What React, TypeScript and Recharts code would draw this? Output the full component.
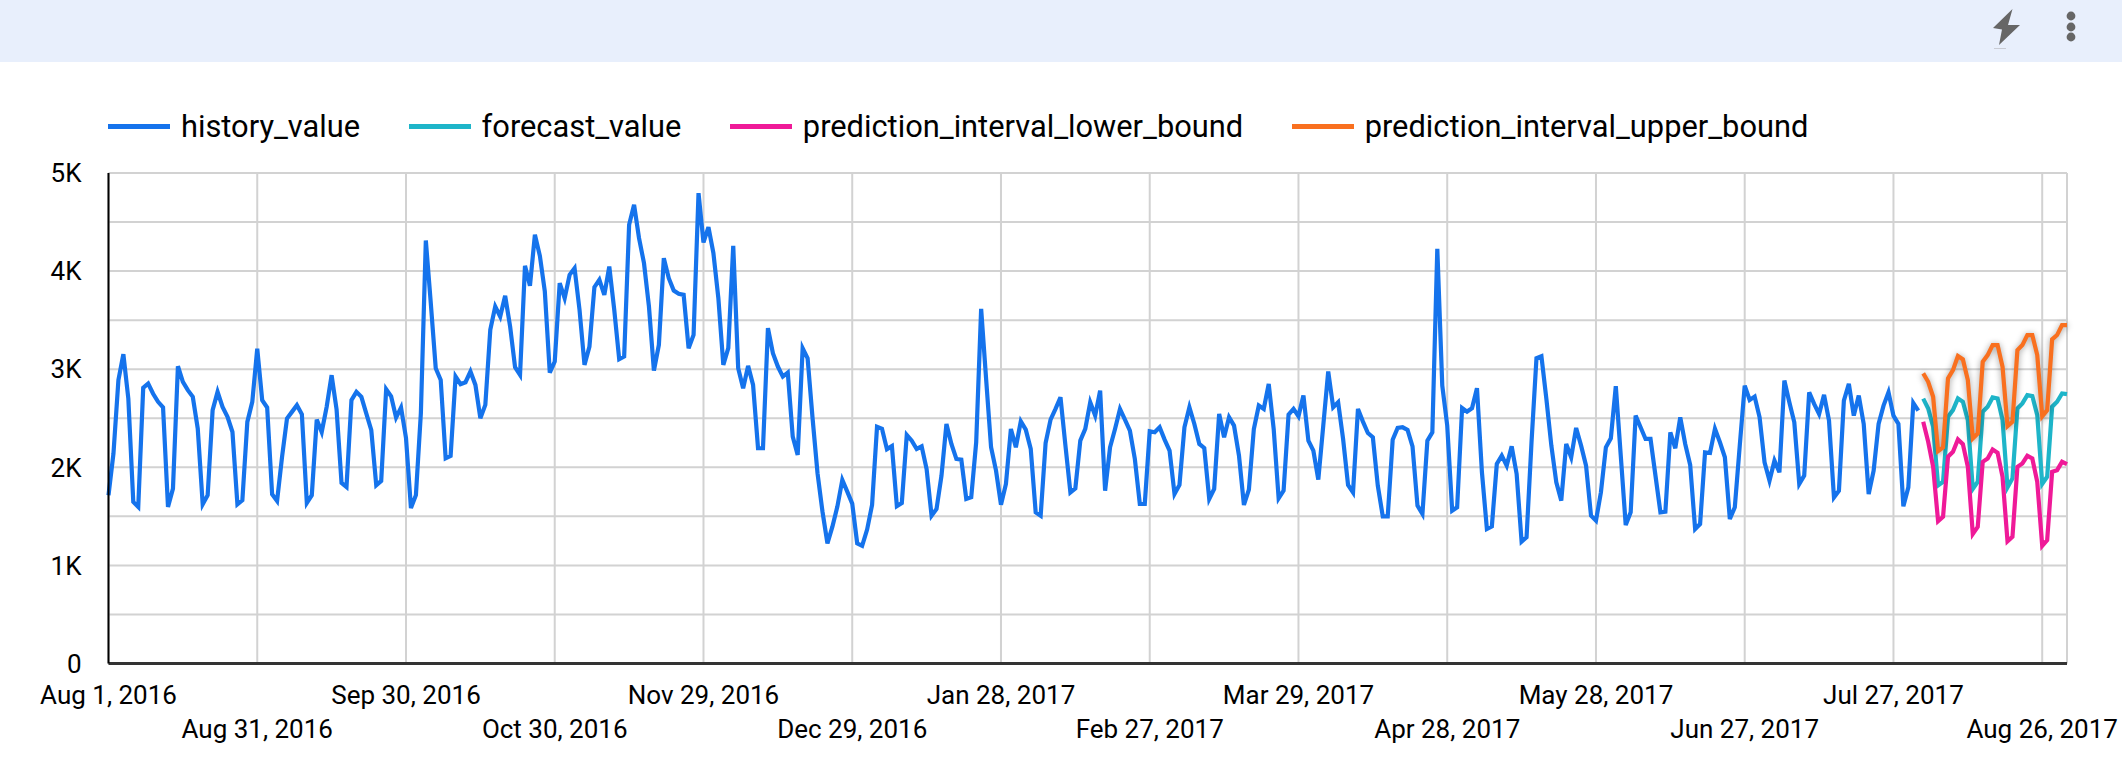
import { CartesianGrid, Legend, Line, LineChart, XAxis, YAxis } from "recharts";

// daily values from Aug 1, 2016
const historyValues = [
  1715, 2140, 2890, 3153, 2700, 1647, 1596, 2810, 2854, 2750,
  2667, 2610, 1596, 1783, 3030, 2870, 2786, 2718, 2395, 1623,
  1715, 2582, 2769, 2616, 2514, 2360, 1623, 1664, 2463, 2667,
  3210, 2684, 2610, 1725, 1657, 2106, 2497, 2565, 2633, 2541,
  1637, 1715, 2487, 2360, 2616, 2939, 2589, 1841, 1800, 2684,
  2769, 2718, 2548, 2378, 1817, 1861, 2796, 2724, 2507, 2610,
  2300, 1585, 1716, 2551, 4312, 3673, 3010, 2891, 2092, 2116,
  2925, 2847, 2867, 2976, 2840, 2500, 2636, 3401, 3639, 3537,
  3748, 3435, 3020, 2942, 4054, 3850, 4370, 4156, 3792, 2966,
  3078, 3877, 3724, 3962, 4030, 3605, 3044, 3231, 3836, 3911,
  3758, 4047, 3605, 3102, 3129, 4472, 4676, 4336, 4081, 3639,
  2986, 3248, 4132, 3928, 3802, 3768, 3758, 3214, 3350, 4795,
  4292, 4448, 4183, 3724, 3044, 3214, 4258, 3010, 2806, 3034,
  2840, 2194, 2194, 3418, 3163, 3027, 2925, 2966, 2313, 2126,
  3214, 3112, 2500, 1939, 1548, 1225, 1395, 1600, 1871, 1752,
  1630, 1225, 1200, 1365, 1616, 2412, 2392, 2185, 2216, 1605,
  1636, 2330, 2272, 2187, 2214, 1983, 1507, 1575, 1915, 2442,
  2238, 2085, 2078, 1677, 1694, 2255, 3615, 2901, 2204, 1966,
  1619, 1830, 2391, 2204, 2469, 2384, 2187, 1541, 1507, 2248,
  2486, 2595, 2714, 2221, 1745, 1786, 2272, 2391, 2663, 2527,
  2782, 1762, 2204, 2391, 2595, 2486, 2374, 2085, 1626, 1626,
  2367, 2357, 2408, 2282, 2170, 1728, 1820, 2408, 2612, 2442,
  2238, 2197, 1677, 1779, 2544, 2306, 2510, 2425, 2119, 1616,
  1772, 2391, 2629, 2595, 2850, 2391, 1684, 1762, 2537, 2595,
  2520, 2731, 2272, 2170, 1874, 2425, 2976, 2612, 2663, 2289,
  1820, 1745, 2595, 2466, 2350, 2306, 1813, 1500, 1500, 2282,
  2401, 2408, 2381, 2214, 1609, 1524, 2272, 2357, 4227, 2833,
  2425, 1558, 1592, 2605, 2568, 2602, 2806, 1949, 1371, 1398,
  2034, 2119, 2017, 2214, 1932, 1242, 1286, 2255, 3112, 3132,
  2697, 2221, 1847, 1660, 2238, 2102, 2401, 2221, 2017, 1507,
  1456, 1745, 2204, 2296, 2826, 2119, 1412, 1541, 2527, 2408,
  2289, 2289, 1915, 1541, 1548, 2357, 2194, 2510, 2238, 2024,
  1371, 1422, 2153, 2146, 2391, 2255, 2102, 1473, 1592, 2221,
  2833, 2687, 2721, 2510, 2051, 1864, 2068, 1949, 2884, 2663,
  2459, 1830, 1915, 2765, 2646, 2544, 2738, 2476, 1694, 1762,
  2680, 2850, 2527, 2731, 2442, 1728, 1966, 2442, 2629, 2765,
  2527, 2442, 1602, 1796, 2656, 2578,
];

// 30 day forecast, starts the day after the history ends
const forecastValues = [
  2700, 2600, 2413, 1815, 1852, 2515, 2583, 2702, 2668, 2481,
  1780, 1852, 2566, 2617, 2712, 2702, 2481, 1795, 1886, 2600,
  2651, 2736, 2726, 2532, 1830, 1903, 2617, 2668, 2753, 2746,
];
const lowerBound = [
  2464, 2260, 2005, 1450, 1495, 2107, 2158, 2284, 2236, 2005,
  1320, 1393, 2056, 2090, 2182, 2148, 1903, 1245, 1291, 2005,
  2039, 2117, 2090, 1852, 1200, 1257, 1954, 1971, 2056, 2032,
];
const upperBound = [
  2957, 2872, 2719, 2165, 2202, 2906, 2991, 3134, 3100, 2889,
  2295, 2345, 3076, 3144, 3246, 3246, 3025, 2420, 2464, 3195,
  3246, 3348, 3348, 3144, 2520, 2583, 3304, 3348, 3450, 3450,
];

const tickLabels = [
  "Aug 1, 2016", "Aug 31, 2016", "Sep 30, 2016", "Oct 30, 2016", "Nov 29, 2016",
  "Dec 29, 2016", "Jan 28, 2017", "Feb 27, 2017", "Mar 29, 2017", "Apr 28, 2017",
  "May 28, 2017", "Jun 27, 2017", "Jul 27, 2017", "Aug 26, 2017",
];
const yTicks = [0, 1000, 2000, 3000, 4000, 5000];
const yGrid = [0, 500, 1000, 1500, 2000, 2500, 3000, 3500, 4000, 4500, 5000];

const FONT = "Roboto, sans-serif";
const START = Date.UTC(2016, 7, 1);
const DAY = 86400000;

const data = Array.from({ length: historyValues.length + forecastValues.length }, (_, i) => {
  const f = i - historyValues.length;
  return {
    date: new Date(START + i * DAY).toLocaleDateString("en-US", {
      month: "short",
      day: "numeric",
      year: "numeric",
      timeZone: "UTC",
    }),
    history_value: f < 0 ? historyValues[i] : null,
    forecast_value: f >= 0 ? forecastValues[f] : null,
    prediction_interval_lower_bound: f >= 0 ? lowerBound[f] : null,
    prediction_interval_upper_bound: f >= 0 ? upperBound[f] : null,
  };
});

// labels alternate between two rows
function DateTick({ x, y, payload }: any) {
  const row = tickLabels.indexOf(payload.value) % 2;
  return (
    <text x={x} y={y + 32 + row * 34} textAnchor="middle" fontFamily={FONT} fontSize={26} fill="#000">
      {payload.value}
    </text>
  );
}

function ChartLegend({ payload }: any) {
  return (
    <div style={{ display: "flex", alignItems: "center", fontFamily: FONT, fontSize: 30.8, color: "#000" }}>
      {payload.map((item: any) => (
        <div key={item.value} style={{ display: "flex", alignItems: "center", marginRight: 48.5 }}>
          <span style={{ width: 62, height: 5, background: item.color, marginRight: 11 }} />
          {item.value}
        </div>
      ))}
    </div>
  );
}

export default function App() {
  return (
    <div style={{ position: "fixed", left: 0, top: 0, width: 2122, height: 772, background: "#fff", overflow: "hidden" }}>
      {/* top bar */}
      <div style={{ position: "absolute", left: 0, top: 0, width: 2122, height: 62, background: "#e8effc" }} />
      <svg style={{ position: "absolute", left: 0, top: 0 }} width={2122} height={62}>
        <polygon points="2012.5,9 1993,28 2002,29.5 1999,45 2020,25 2008,25" fill="#666" />
        <rect x={1994} y={48} width={12} height={1} fill="#c9ccd4" />
        <circle cx={2071} cy={16} r={4.4} fill="#666" />
        <circle cx={2071} cy={27} r={4.4} fill="#666" />
        <circle cx={2071} cy={37} r={4.4} fill="#666" />
      </svg>
      <LineChart
        width={2122}
        height={772}
        data={data}
        margin={{ top: 173, right: 55, bottom: 0, left: 28.5 }}
        style={{ position: "absolute", left: 0, top: 0 }}
      >
        <CartesianGrid stroke="#d2d2d2" strokeWidth={2} horizontalValues={yGrid} />
        <XAxis
          dataKey="date"
          scale="point"
          ticks={tickLabels}
          interval={0}
          height={108.5}
          tick={DateTick}
          tickLine={false}
          axisLine={{ stroke: "#333", strokeWidth: 3 }}
        />
        <YAxis
          width={80}
          domain={[0, 5000]}
          ticks={yTicks}
          tickFormatter={(v: number) => (v === 0 ? "0" : `${v / 1000}K`)}
          tickLine={false}
          tickMargin={21}
          tick={{ fontFamily: FONT, fontSize: 26, fill: "#000" }}
          axisLine={{ stroke: "#000", strokeWidth: 2 }}
        />
        <Legend
          verticalAlign="middle"
          layout="horizontal"
          itemSorter={null}
          content={ChartLegend}
          wrapperStyle={{ left: 108, top: 108, width: 1900 }}
        />
        <Line dataKey="history_value" stroke="#1573ec" strokeWidth={4.2} dot={false} isAnimationActive={false} />
        <Line dataKey="forecast_value" stroke="#1eb5c9" strokeWidth={4.2} dot={false} isAnimationActive={false} />
        <Line dataKey="prediction_interval_lower_bound" stroke="#ef1a98" strokeWidth={4.2} dot={false} isAnimationActive={false} />
        <Line
          dataKey="prediction_interval_upper_bound"
          stroke="#f9701f"
          strokeWidth={4.2}
          dot={false}
          isAnimationActive={false}
          style={{ filter: "drop-shadow(0 1px 3px rgba(0,0,0,0.4))" }}
        />
      </LineChart>
    </div>
  );
}
